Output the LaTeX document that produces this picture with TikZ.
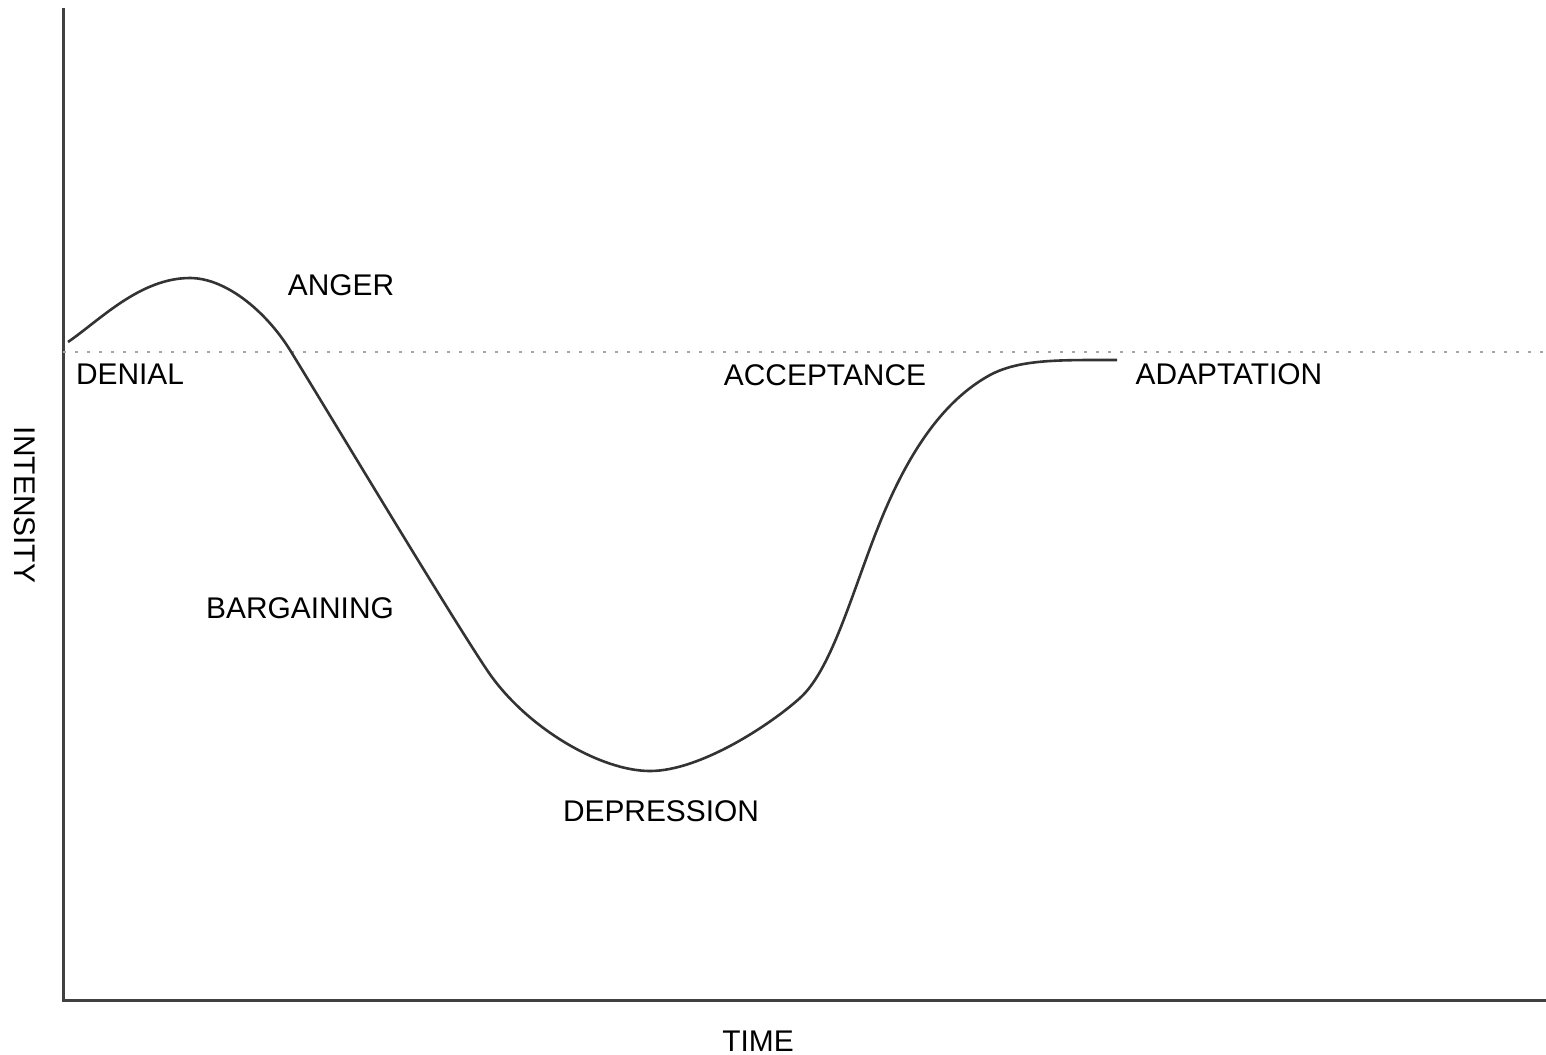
\documentclass[tikz,border=0pt]{standalone}
\usepackage{fontspec}
\setmainfont{Liberation Sans}
\usetikzlibrary{calc}

\tikzset{
  stage/.style={font=\fontsize{8.5}{10}\selectfont, text=black, inner sep=0pt},
  axis/.style={line width=0.03cm, draw=black!75},
  grief/.style={line width=0.026cm, draw=black!80},
  level/.style={line width=0.028cm, draw=black!35, dash pattern=on 0.03cm off 0.09cm}
}

\begin{document}
\begin{tikzpicture}[x=0.01cm, y=-0.01cm]
\useasboundingbox (0,0) rectangle (1546,1054);

\coordinate (origin) at (63,1000);
\coordinate (ytop) at (63,8);
\coordinate (xend) at (1546,1000);

\draw [axis] (ytop) -- (origin) -- (xend);
\draw [level] (63,352) -- (1546,352);

%Curve

\coordinate (start) at (68,342);
\coordinate (peak) at (190,278);
\coordinate (cross) at (290,350);
\coordinate (slide) at (487,670);
\coordinate (bottom) at (650,771);
\coordinate (rise) at (800,698);
\coordinate (climb) at (875,535);
\coordinate (settle) at (990,375);
\coordinate (stop) at (1117,360);

\draw [grief] (start)
  .. controls (100,320) and (140,278) .. (peak)
  .. controls (225,278) and (265,310) .. (cross)
  .. controls (330,415) and (450,615) .. (slide)
  .. controls (525,727) and (600,771) .. (bottom)
  .. controls (700,771) and (770,725) .. (rise)
  .. controls (830,671) and (850,600) .. (climb)
  .. controls (900,470) and (935,405) .. (settle)
  .. controls (1020,359) and (1060,360) .. (stop);

%Stages

\node [stage] (denial) at (130,374) {DENIAL};
\node [stage] (anger) at (341,285) {ANGER};
\node [stage] (bargaining) at (300,608) {BARGAINING};
\node [stage] (depression) at (661,811) {DEPRESSION};
\node [stage] (acceptance) at (825,375) {ACCEPTANCE};
\node [stage] (adaptation) at (1229,374) {ADAPTATION};

\node [stage] (time) at (758,1041) {TIME};
\node [stage, rotate=-90] (intensity) at (25,505) {INTENSITY};

\end{tikzpicture}
\end{document}
